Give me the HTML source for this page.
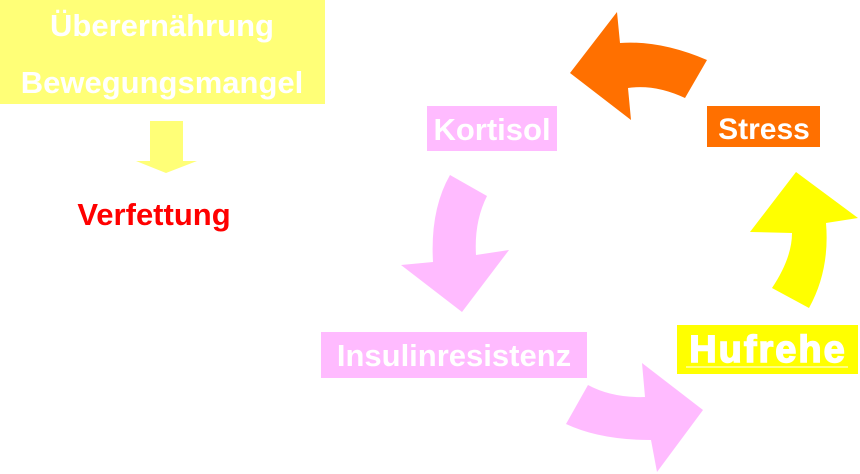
<!DOCTYPE html>
<html><head><meta charset="utf-8"><style>
html,body{margin:0;padding:0;background:#fff;width:860px;height:474px;overflow:hidden}
svg{display:block}
text{font-family:"Liberation Sans",Arial,sans-serif;font-weight:bold}
</style></head><body>
<svg width="860" height="474" viewBox="0 0 860 474" xmlns="http://www.w3.org/2000/svg">
<rect x="0" y="0" width="325" height="104" fill="#ffff77"/>
<text x="162" y="36" font-size="31" fill="#fff" text-anchor="middle">Überernährung</text>
<text x="162" y="93" font-size="31" fill="#fff" text-anchor="middle">Bewegungsmangel</text>
<polygon points="150,121 183,121 183,161 197,161 166,173 136,161 150,161" fill="#ffff77"/>
<text x="154" y="225" font-size="31" fill="#ff0000" text-anchor="middle">Verfettung</text>

<path d="M570,73 L617,12 L620,43 Q660,40 707,60 L685,98 Q655,84 628,88 L631,120 Z" fill="#ff7000"/>
<rect x="427" y="106" width="130" height="45" fill="#ffbbff"/>
<text x="492" y="140" font-size="31" fill="#fff" text-anchor="middle">Kortisol</text>
<rect x="707" y="106" width="113" height="41" fill="#ff7000"/>
<text x="764" y="139" font-size="30" fill="#fff" text-anchor="middle">Stress</text>

<path d="M450,175 L487,196 Q474,222 476,255 L509,250 L462,312 L401,265 L433,262 Q430,210 450,175 Z" fill="#ffbbff"/>
<path d="M566,424 L588,385 Q612,398 645,397 L642,363 L703,410 L657,472 L651,440 Q600,440 566,424 Z" fill="#ffbbff"/>
<path d="M796,172 L858,218 L826,223 Q830,270 809,308 L772,288 Q792,258 792,233 L750,232 Z" fill="#ffff00"/>

<rect x="321" y="332" width="266" height="46" fill="#ffbbff"/>
<text x="454" y="366" font-size="31" fill="#fff" text-anchor="middle">Insulinresistenz</text>
<rect x="677" y="325" width="181" height="49" fill="#ffff00"/>
<text x="768" y="362" font-size="38" fill="#fff" text-anchor="middle" stroke="#fff" stroke-width="1.5" letter-spacing="2">Hufrehe</text>
<line x1="686" y1="367" x2="848" y2="367" stroke="#fff" stroke-width="1"/>
</svg>
</body></html>
